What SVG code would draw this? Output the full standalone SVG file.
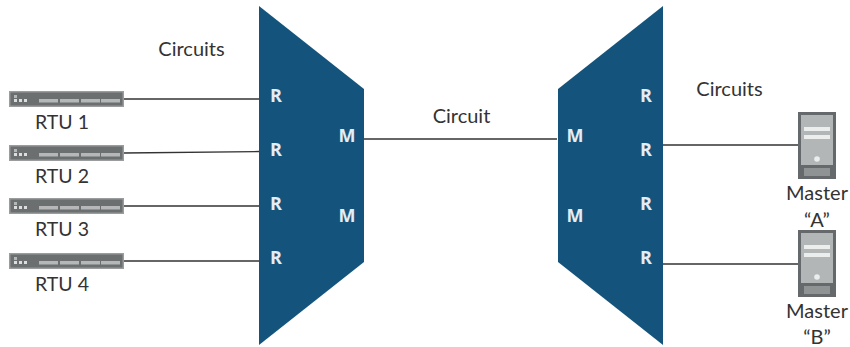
<svg xmlns="http://www.w3.org/2000/svg" width="850" height="347" viewBox="0 0 850 347">
<style>
text{font-family:Lato,"Open Sans","Liberation Sans",sans-serif;font-size:20px;fill:#333;text-anchor:middle}
text.r{font-size:19.5px}
text.p{font-family:"Open Sans","Liberation Sans",sans-serif;font-weight:700;font-size:18px;fill:#e4edf3}
.mux{fill:#14547c}
.c line{stroke:#333;stroke-width:1.3}
.rb{fill:#6b6f70}.rl{fill:#b5b7b8}
.sb{fill:#65696b}.sf{fill:#b3b6b7}.sl{fill:#eceded}
</style>
<defs>
<g id="rtu">
<rect x="0" y="0" width="115" height="16" fill="#9a9c9d"/>
<rect x="1.500" y="1.500" width="112" height="13" class="rb"/>
<rect x="5" y="4" width="3" height="3" class="rl"/><rect x="5" y="8" width="3" height="3" fill="#ddd"/><rect x="10" y="8" width="3" height="3" fill="#ddd"/><rect x="15" y="8" width="3" height="3" fill="#ddd"/>
<rect x="30" y="8" width="19" height="3.500" class="rl"/><rect x="51" y="8" width="19" height="3.500" class="rl"/><rect x="72" y="8" width="19" height="3.500" class="rl"/><rect x="92" y="8" width="19" height="3.500" class="rl"/>
</g>
<g id="srv">
<rect x="0" y="0" width="38" height="67" class="sb"/>
<rect x="3" y="3" width="32" height="50" class="sf"/>
<rect x="6" y="15" width="26" height="4" class="sl"/><rect x="6" y="23" width="26" height="4" class="sl"/>
<circle cx="19" cy="47" r="2.800" class="sl"/>
<rect x="6" y="56" width="26" height="8" fill="#8f9394"/>
</g>
</defs>
<g id="connectors" class="c">
<line x1="124" y1="99" x2="259" y2="99"/>
<line x1="124" y1="153" x2="259" y2="151.500"/>
<line x1="124" y1="206" x2="259" y2="206"/>
<line x1="124" y1="261" x2="259" y2="261"/>
<line x1="364" y1="139" x2="557" y2="139"/>
<line x1="663" y1="145" x2="798" y2="145"/>
<line x1="663" y1="264" x2="798" y2="264"/>
</g>
<g id="mux-left"><polygon class="mux" points="259,6 364,89 364,262 259,345"/>
<text class="p" x="276" y="102">R</text><text class="p" x="276" y="156">R</text><text class="p" x="276" y="210">R</text><text class="p" x="276" y="264">R</text>
<text class="p" x="347" y="142">M</text><text class="p" x="347" y="222">M</text></g>
<g id="mux-right"><polygon class="mux" points="663,6 558,89 558,262 663,345"/>
<text class="p" x="646" y="102">R</text><text class="p" x="646" y="156">R</text><text class="p" x="646" y="210">R</text><text class="p" x="646" y="264">R</text>
<text class="p" x="575" y="142">M</text><text class="p" x="575" y="222">M</text></g>
<g id="rtu1"><use href="#rtu" x="9" y="91"/><text class="r" x="62" y="129">RTU 1</text></g>
<g id="rtu2"><use href="#rtu" x="9" y="145"/><text class="r" x="62" y="183">RTU 2</text></g>
<g id="rtu3"><use href="#rtu" x="9" y="198"/><text class="r" x="62" y="236">RTU 3</text></g>
<g id="rtu4"><use href="#rtu" x="9" y="253"/><text class="r" x="62" y="291">RTU 4</text></g>
<g id="master-a"><use href="#srv" x="798" y="112"/><text x="817" y="200">Master</text><text x="817" y="227">“A”</text></g>
<g id="master-b"><use href="#srv" x="798" y="230"/><text x="817" y="318">Master</text><text x="817" y="344">“B”</text></g>
<g id="labels"><text x="191.500" y="56">Circuits</text><text x="461.500" y="123">Circuit</text><text x="729.500" y="96">Circuits</text></g>
</svg>
